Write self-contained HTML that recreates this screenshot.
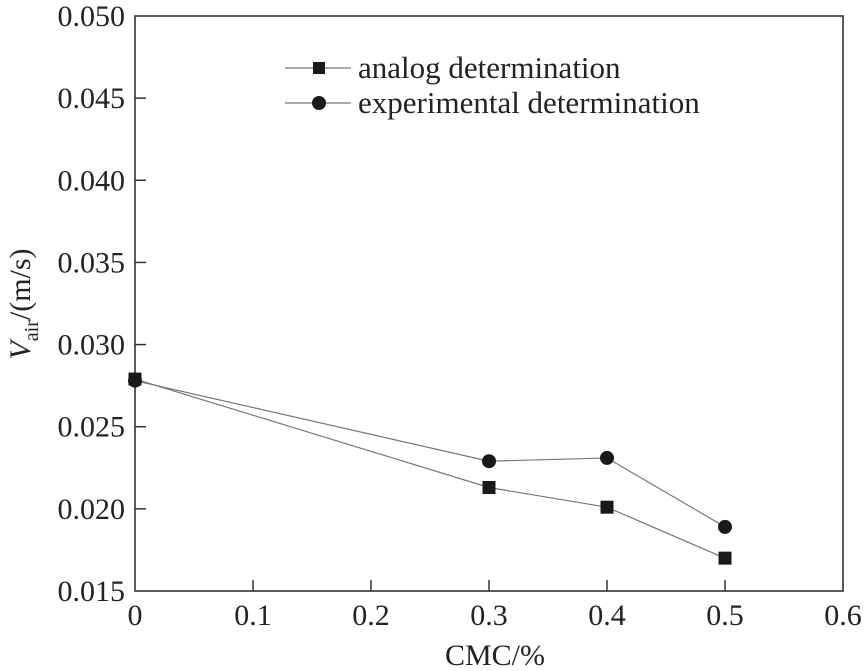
<!DOCTYPE html>
<html><head><meta charset="utf-8"><style>
html,body{margin:0;padding:0;background:#fff;}
svg{display:block;font-family:"Liberation Serif","DejaVu Serif",serif;}
</style></head><body>
<svg id="chart" width="864" height="671" viewBox="0 0 864 671">
<g id="axes"></g>
<g id="series"></g>
<g id="legend">
  <line x1="285" y1="68" x2="351" y2="68" stroke="#777" stroke-width="1.2"/>
  <rect x="313" y="62" width="12" height="12" fill="#1a1a1a"/>
  <text x="358" y="78" font-size="31" fill="#222">analog determination</text>
  <line x1="285" y1="103" x2="351" y2="103" stroke="#777" stroke-width="1.2"/>
  <circle cx="319" cy="103" r="7" fill="#1a1a1a"/>
  <text x="358" y="113" font-size="31" fill="#222">experimental determination</text>
</g>
<text x="495" y="665" font-size="30" text-anchor="middle" fill="#222">CMC/%</text>
<text transform="translate(30,304) rotate(-90)" font-size="30" text-anchor="middle" fill="#222"><tspan font-style="italic">V</tspan><tspan font-size="20" dy="8">air</tspan><tspan dy="-8">/(m/s)</tspan></text>
</svg>
<script>
const xCats = [0, 0.3, 0.4, 0.5];
const analogValues = [0.0279, 0.0213, 0.0201, 0.0170];
const experimentalValues = [0.0278, 0.0229, 0.0231, 0.0189];
const xTicks = [0, 0.1, 0.2, 0.3, 0.4, 0.5, 0.6];
const xTickLabels = ["0", "0.1", "0.2", "0.3", "0.4", "0.5", "0.6"];
const yTicks = [0.015, 0.020, 0.025, 0.030, 0.035, 0.040, 0.045, 0.050];
const yTickLabels = ["0.015", "0.020", "0.025", "0.030", "0.035", "0.040", "0.045", "0.050"];

const L = 135, R = 843, T = 16, B = 591;
const xMin = 0, xMax = 0.6, yMin = 0.015, yMax = 0.050;
const xs = v => L + (v - xMin) / (xMax - xMin) * (R - L);
const ys = v => B - (v - yMin) / (yMax - yMin) * (B - T);
const NS = "http://www.w3.org/2000/svg";
function mk(tag, attrs, parent) {
  const el = document.createElementNS(NS, tag);
  for (const k in attrs) el.setAttribute(k, attrs[k]);
  parent.appendChild(el);
  return el;
}
const axes = document.getElementById('axes');
const frame = mk('rect', {x: L, y: T, width: R - L, height: B - T, fill: 'none', stroke: '#333', 'stroke-width': 1.6}, axes);


xTicks.forEach((v, i) => {
  const x = xs(v);
  if (i > 0 && i < xTicks.length - 1) {
    const t = mk('line', {x1: x, y1: B, x2: x, y2: B - 11, stroke: '#333', 'stroke-width': 1.5}, axes);
    
    
  }
  const lb = mk('text', {x: x, y: B + 34, 'font-size': 30, 'text-anchor': 'middle', fill: '#222'}, axes);
  lb.textContent = xTickLabels[i];
  
  
});
yTicks.forEach((v, i) => {
  const y = ys(v);
  if (i > 0 && i < yTicks.length - 1) {
    const t = mk('line', {x1: L, y1: y, x2: L + 11, y2: y, stroke: '#333', 'stroke-width': 1.5}, axes);
    
    
  }
  const lb = mk('text', {x: L - 10, y: y + 10, 'font-size': 30, 'text-anchor': 'end', fill: '#222'}, axes);
  lb.textContent = yTickLabels[i];
  
  
});
const series = document.getElementById('series');
function drawSeries(vals, kind) {
  const pts = xCats.map((c, i) => xs(c) + ',' + ys(vals[i])).join(' ');
  const pl = mk('polyline', {points: pts, fill: 'none', stroke: '#777', 'stroke-width': 1.2}, series);
  
  
  xCats.forEach((c, i) => {
    let m;
    if (kind === 'analog') m = mk('rect', {x: xs(c) - 6.5, y: ys(vals[i]) - 6.5, width: 13, height: 13, fill: '#1a1a1a'}, series);
    else m = mk('circle', {cx: xs(c), cy: ys(vals[i]), r: 7, fill: '#1a1a1a'}, series);
    
    
  });
}
drawSeries(analogValues, 'analog');
drawSeries(experimentalValues, 'experimental');
</script>
</body></html>
